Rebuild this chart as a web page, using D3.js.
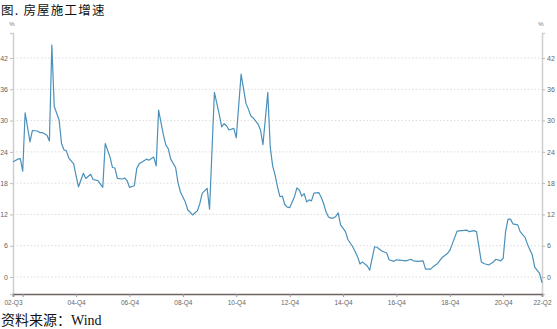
<!DOCTYPE html>
<html>
<head>
<meta charset="utf-8">
<script src="https://cdn.jsdelivr.net/npm/d3@7/dist/d3.min.js"></script>
<style>
  body { margin: 0; background: #fff; }
  #chart { width: 557px; height: 329px; }
  .tick text { fill: #666; font-family: "Liberation Sans", Arial, sans-serif; }
</style>
</head>
<body>
<div id="chart"></div>
<script>
// monthly readings (Jan merged into Feb), 房屋施工面积累计同比 %
var months = [
  "2002-08","2002-10","2002-11","2002-12",
  "2003-02","2003-04","2003-05","2003-07","2003-08","2003-09","2003-11","2003-12",
  "2004-02","2004-03","2004-05","2004-06","2004-07","2004-08","2004-09","2004-11","2004-12",
  "2005-02","2005-04","2005-05","2005-07","2005-08","2005-10","2005-12",
  "2006-02","2006-04","2006-05","2006-06","2006-07","2006-09","2006-10","2006-11","2006-12",
  "2007-03","2007-04","2007-05","2007-06","2007-08","2007-09","2007-11","2007-12",
  "2008-02","2008-04","2008-05","2008-06","2008-07","2008-09","2008-10","2008-11",
  "2009-02","2009-03","2009-05","2009-07","2009-08","2009-09","2009-11","2009-12",
  "2010-03","2010-05","2010-06","2010-07","2010-08","2010-09","2010-11","2010-12",
  "2011-03","2011-05","2011-06","2011-07","2011-08","2011-10","2011-11","2011-12",
  "2012-03","2012-04","2012-05","2012-06","2012-07","2012-08","2012-09","2012-10","2012-11","2012-12",
  "2013-03","2013-04","2013-05","2013-06","2013-07","2013-08","2013-09","2013-10","2013-11",
  "2014-02","2014-03","2014-04","2014-05","2014-06","2014-07","2014-08","2014-09","2014-10","2014-11",
  "2015-02","2015-03","2015-05","2015-07","2015-08","2015-09","2015-11","2015-12",
  "2016-03","2016-04","2016-06","2016-08","2016-09","2016-11","2016-12",
  "2017-03","2017-05","2017-07","2017-08","2017-10","2017-12",
  "2018-02","2018-04","2018-05","2018-07","2018-09","2018-11","2018-12",
  "2019-02","2019-04","2019-06","2019-08","2019-09","2019-11","2019-12",
  "2020-03","2020-04","2020-06","2020-08","2020-09","2020-11","2020-12",
  "2021-02","2021-03","2021-04","2021-05","2021-07","2021-08","2021-10","2021-11",
  "2022-02","2022-03","2022-05","2022-06"
];
var growth = [
  22.1,22.6,22.7,20.3,
  31.5,25.9,28.1,28.0,27.7,27.7,27.2,26.1,
  44.5,32.7,30.1,25.6,24.4,24.2,22.8,21.7,19.4,
  17.3,19.9,18.9,19.7,18.7,18.5,17.2,
  25.6,23.0,21.0,20.9,18.9,18.8,19.0,18.5,17.2,
  17.5,20.8,21.7,22.0,22.6,22.4,23.0,21.3,
  32.0,27.2,25.3,24.6,22.6,21.0,18.1,16.3,
  14.4,12.9,11.9,12.7,14.1,16.1,17.0,13.0,
  35.4,31.2,28.8,29.4,29.0,28.2,28.5,26.7,
  38.9,33.3,32.2,30.9,30.5,29.3,28.2,25.4,
  35.4,25.0,21.3,19.6,17.3,15.4,15.5,13.9,13.4,13.3,
  15.4,17.1,16.7,15.5,16.0,14.4,14.8,14.6,16.1,
  16.2,15.3,14.1,12.5,11.5,11.3,11.3,11.6,12.3,10.0,
  8.7,7.2,5.8,3.9,2.5,2.9,2.1,1.3,
  5.8,5.7,5.0,4.6,3.3,3.0,3.3,
  3.2,3.1,3.4,3.1,3.0,3.1,
  1.5,1.5,1.9,2.6,3.8,4.5,5.1,
  6.3,8.8,8.9,9.0,8.7,8.9,8.7,
  2.9,2.6,2.3,2.9,3.4,3.1,3.6,
  8.7,11.1,11.1,10.2,10.0,8.7,7.6,6.3,
  4.2,1.9,0.7,-1.1
];
var yTicks = [0, 6, 12, 18, 24, 30, 36, 42];
var xTickMonths = ["2002-08","2002-12","2004-12","2006-12","2008-12","2010-12",
                   "2012-12","2014-12","2016-12","2018-12","2020-12","2022-06"];
var xTickLabels = ["02-Q3","","04-Q4","06-Q4","08-Q4","10-Q4",
                   "12-Q4","14-Q4","16-Q4","18-Q4","20-Q4","22-Q2"];

// full category axis: Aug 2002 .. Jun 2022, no January
var cats = [];
for (var yr = 2002; yr <= 2022; yr++) {
  for (var m = 2; m <= 12; m++) {
    if (yr == 2002 && m < 8) continue;
    if (yr == 2022 && m > 6) continue;
    cats.push(yr + "-" + (m < 10 ? "0" + m : m));
  }
}

var width = 557, height = 329,
    plotL = 13, plotR = 542, plotT = 33, plotB = 294;

var svg = d3.select("#chart").append("svg")
  .attr("width", width)
  .attr("height", height);

var x = d3.scalePoint().domain(cats).range([plotL, plotR]);
var yScale = d3.scaleLinear().domain([-3.26, 46.8]).range([plotB, plotT]);

// grid
svg.append("g").selectAll("line")
  .data(yTicks).enter().append("line")
  .attr("x1", plotL).attr("x2", plotR)
  .attr("y1", function(d){ return yScale(d); })
  .attr("y2", function(d){ return yScale(d); })
  .attr("stroke", "#dcdcdc")
  .attr("stroke-width", 1)
  .attr("stroke-dasharray", "1.5,2");

// y axes
var axL = svg.append("g").attr("transform", "translate(" + plotL + ",0)")
  .call(d3.axisLeft(yScale).tickValues(yTicks).tickSize(3).tickPadding(2));
var axR = svg.append("g").attr("transform", "translate(" + plotR + ",0)")
  .call(d3.axisRight(yScale).tickValues(yTicks).tickSize(3).tickPadding(2));
[axL, axR].forEach(function(a){
  a.select(".domain").attr("stroke", "#cfcfcf").attr("stroke-width", 1.5);
  a.selectAll(".tick line").attr("stroke", "#bbb");
  a.selectAll(".tick text").attr("font-size", 7);
});

svg.append("text").attr("x", plotL - 1).attr("y", 26)
  .attr("text-anchor", "middle").attr("font-size", 6).attr("fill", "#777")
  .attr("font-family", "Liberation Sans, Arial, sans-serif").text("%");
svg.append("text").attr("x", plotR - 1).attr("y", 26)
  .attr("text-anchor", "middle").attr("font-size", 6).attr("fill", "#777")
  .attr("font-family", "Liberation Sans, Arial, sans-serif").text("%");

// x axis
var xa = svg.append("g").attr("transform", "translate(0," + plotB + ")")
  .call(d3.axisBottom(x).tickValues(xTickMonths).tickSize(3).tickPadding(3)
    .tickFormat(function(d){ return xTickLabels[xTickMonths.indexOf(d)]; }));
xa.select(".domain").attr("stroke", "#6e6262").attr("stroke-width", 1.6);
xa.selectAll(".tick line").attr("stroke", "#999");
xa.selectAll(".tick text").attr("font-size", 6.5);

// line
var pts = months.map(function(d, i){ return [d, growth[i]]; });
svg.append("path")
  .datum(pts)
  .attr("fill", "none")
  .attr("stroke", "#4a90ba")
  .attr("stroke-width", 1.2)
  .attr("stroke-linejoin", "round")
  .attr("d", d3.line()
    .x(function(d){ return x(d[0]); })
    .y(function(d){ return yScale(d[1]); }));

// title & source
svg.append("text").attr("x", 1).attr("y", 15)
  .attr("font-size", 12.5).attr("fill", "#111")
  .attr("letter-spacing", 1.2)
  .attr("font-family", "Noto Sans CJK SC, sans-serif")
  .text("图. 房屋施工增速");
svg.append("text").attr("x", 1).attr("y", 325)
  .attr("font-size", 14).attr("fill", "#111")
  .attr("font-family", "Liberation Serif, Noto Sans CJK SC, serif")
  .text("资料来源：Wind");
</script>
</body>
</html>
